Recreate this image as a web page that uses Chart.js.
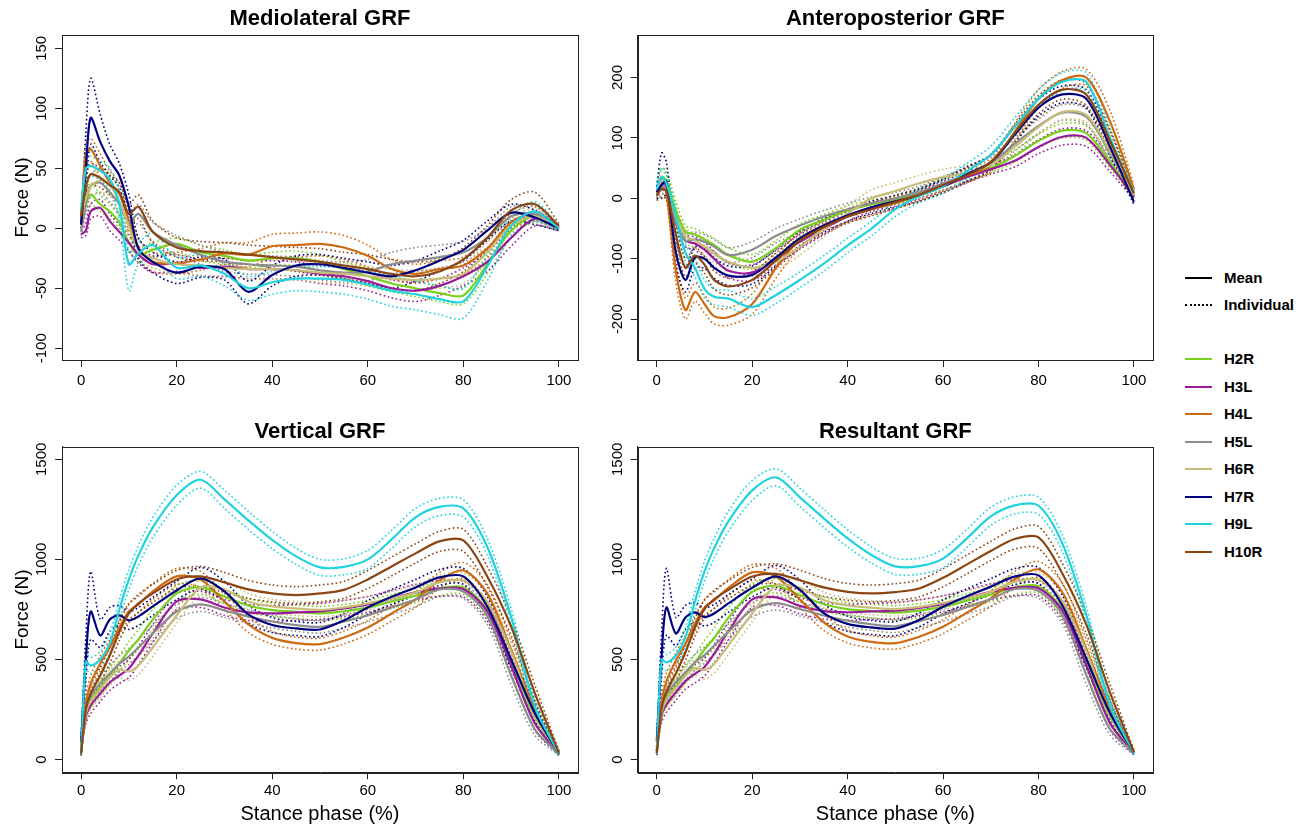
<!DOCTYPE html>
<html>
<head>
<meta charset="utf-8">
<script src="https://cdn.jsdelivr.net/npm/chart.js@4.4.1/dist/chart.umd.min.js"></script>
<style>
  body { margin: 0; background: #fff; width: 1304px; height: 824px; overflow: hidden; position: relative; font-family: 'Liberation Sans', Arial, sans-serif; }
  canvas { position: absolute; }
  .item { position: absolute; left: 1185px; width: 119px; height: 20px; }
  .item .ln { position: absolute; left: 0; top: 9px; width: 27px; border-top: 2px solid #000; }
  .item .dot { border-top: 2px dotted #000; }
  .item span { position: absolute; left: 39px; top: 0; font-weight: bold; font-size: 15px; line-height: 20px; color: #000; }
</style>
</head>
<body>
<canvas id="ml" width="590" height="400" style="left:0;top:0"></canvas>
<canvas id="ap" width="575" height="400" style="left:590px;top:0"></canvas>
<canvas id="vt" width="590" height="419" style="left:0;top:405px"></canvas>
<canvas id="rs" width="575" height="419" style="left:590px;top:405px"></canvas>
<div id="leyenda"></div>

<script>
// stance phase (%) sampled for every curve
var stance = [0, 1, 2, 4, 6, 8, 10, 12, 15, 20, 25, 30, 35, 40, 45, 50, 55, 60, 65, 70, 75, 80, 85, 90, 95, 100];
var subjects = ['H2R', 'H3L', 'H4L', 'H5L', 'H6R', 'H7R', 'H9L', 'H10R'];
var subjectColors = ['#76d21a', '#9b1a9b', '#cd6a12', '#8c8c8c', '#c8bd78', '#00007f', '#1ed3de', '#8b4513'];

var xTicks = [0, 20, 40, 60, 80, 100];
var mlTicks = [-100, -50, 0, 50, 100, 150];
var apTicks = [-200, -100, 0, 100, 200];
var vTicks = [0, 500, 1000, 1500];

// Mediolateral GRF (N)
var mlMean = [
  [8,20,28,20,14,5,-12,-22,-18,-13,-20,-23,-27,-25,-25,-28,-34,-40,-46,-50,-54,-56,-30,-2,10,0],
  [-5,-2,14,17,6,-3,-12,-22,-30,-29,-33,-32,-34,-34,-35,-38,-40,-44,-50,-52,-48,-40,-28,-8,8,0],
  [5,62,66,52,38,29,6,-16,-28,-29,-26,-21,-22,-15,-14,-13,-16,-23,-34,-38,-34,-31,-17,5,12,0],
  [-3,20,35,38,30,20,5,12,-3,-14,-22,-28,-30,-31,-32,-35,-37,-36,-30,-27,-24,-20,-8,10,12,0],
  [8,25,35,40,36,22,2,-18,-25,-30,-31,-33,-34,-34,-35,-37,-38,-40,-42,-43,-42,-38,-20,2,10,0],
  [3,50,92,72,56,44,18,-17,-28,-37,-32,-34,-53,-39,-31,-30,-33,-37,-40,-35,-27,-18,-2,13,9,0],
  [15,50,52,48,41,20,-30,-21,-14,-33,-31,-38,-50,-45,-42,-42,-43,-47,-52,-55,-59,-61,-32,2,14,0],
  [10,35,45,42,36,30,12,18,-3,-16,-19,-20,-22,-24,-26,-28,-31,-34,-38,-40,-36,-26,-8,15,20,2]
];
var mlTrialA = [
  [12,28,38,28,20,10,-6,-16,-12,-8,-14,-18,-22,-20,-19,-22,-28,-33,-40,-44,-48,-50,-24,4,14,2],
  [-2,4,20,24,12,3,-6,-15,-23,-22,-26,-25,-27,-27,-28,-31,-33,-37,-43,-45,-42,-33,-20,0,14,2],
  [8,70,75,62,48,38,14,-8,-20,-20,-17,-12,-12,-5,-4,-3,-6,-14,-26,-30,-27,-24,-10,12,18,2],
  [0,28,45,48,40,28,12,20,5,-6,-14,-20,-22,-23,-24,-27,-28,-26,-20,-16,-14,-11,0,18,18,2],
  [12,32,44,50,46,32,10,-10,-17,-22,-23,-25,-26,-26,-27,-29,-30,-32,-34,-35,-34,-30,-12,8,16,2],
  [6,80,125,95,70,54,28,-8,-20,-28,-24,-26,-44,-31,-23,-22,-25,-28,-31,-27,-19,-10,6,20,15,2],
  [20,58,60,56,50,32,-20,-12,-4,-24,-22,-28,-40,-36,-32,-32,-33,-36,-40,-44,-48,-50,-22,10,22,2],
  [14,42,54,50,44,38,20,28,6,-8,-11,-12,-14,-15,-16,-17,-20,-22,-26,-28,-26,-16,2,24,30,4]
];
var mlTrialB = [
  [4,14,20,14,8,0,-18,-28,-25,-20,-27,-30,-33,-31,-31,-35,-41,-48,-53,-57,-61,-63,-38,-8,6,-2],
  [-8,-6,8,10,-2,-10,-19,-29,-37,-36,-40,-40,-42,-42,-43,-46,-48,-52,-58,-61,-56,-48,-36,-15,2,-2],
  [2,52,56,42,28,20,-2,-24,-36,-38,-35,-30,-32,-25,-24,-23,-26,-32,-42,-46,-42,-39,-25,-2,6,-2],
  [-6,12,26,30,22,12,-2,4,-11,-22,-30,-36,-38,-39,-40,-43,-45,-44,-38,-36,-33,-28,-16,2,6,-2],
  [4,18,26,30,27,12,-6,-26,-33,-38,-39,-41,-42,-42,-43,-45,-46,-48,-50,-52,-50,-46,-28,-4,4,-2],
  [0,30,70,55,44,34,8,-26,-37,-46,-41,-43,-63,-48,-40,-39,-42,-46,-50,-44,-36,-27,-10,6,3,-2],
  [10,42,44,40,32,8,-52,-30,-24,-42,-40,-48,-60,-55,-52,-53,-55,-59,-65,-68,-72,-75,-44,-6,6,-2],
  [6,28,36,34,28,22,4,8,-12,-24,-27,-28,-30,-33,-36,-39,-42,-46,-50,-52,-46,-36,-18,6,10,0]
];

// Anteroposterior GRF (N)
var apMean = [
  [10,35,30,-20,-55,-60,-68,-77,-94,-105,-82,-52,-36,-20,-10,-3,8,22,38,50,70,95,112,108,60,5],
  [10,25,20,-40,-70,-75,-85,-100,-120,-123,-98,-72,-50,-30,-15,-6,5,20,35,48,62,85,102,100,55,3],
  [5,20,10,-120,-185,-155,-175,-195,-197,-175,-115,-68,-44,-30,-18,-8,5,22,38,55,110,165,196,200,127,15],
  [5,20,15,-40,-70,-68,-72,-80,-94,-85,-62,-45,-30,-18,-8,0,10,25,40,58,90,120,142,135,75,5],
  [8,30,25,-30,-62,-70,-80,-92,-105,-115,-105,-80,-50,-25,0,12,25,35,42,55,85,118,143,138,78,5],
  [10,22,28,-90,-135,-98,-100,-115,-128,-127,-98,-66,-45,-28,-15,-5,5,20,40,60,105,150,172,165,85,-6],
  [15,35,25,-30,-90,-115,-150,-163,-166,-180,-160,-135,-108,-78,-50,-18,4,20,45,72,118,165,193,193,100,10],
  [5,15,12,-60,-115,-95,-110,-135,-146,-135,-103,-70,-48,-30,-18,-6,6,22,38,60,108,155,180,172,95,8]
];
var apTrialA = [
  [20,50,45,-5,-45,-50,-58,-66,-82,-93,-70,-42,-27,-12,-3,4,15,30,46,58,80,106,124,120,70,10],
  [16,36,30,-28,-60,-64,-73,-88,-108,-110,-86,-60,-40,-22,-8,0,12,28,44,56,72,97,115,112,66,8],
  [12,32,22,-100,-165,-140,-160,-180,-182,-158,-98,-55,-34,-20,-9,1,14,32,48,66,124,180,210,214,145,22],
  [12,32,26,-28,-58,-56,-60,-68,-82,-72,-50,-34,-20,-8,2,10,20,36,52,70,102,132,155,148,88,10],
  [16,45,38,-16,-50,-58,-66,-78,-92,-102,-92,-66,-36,-12,14,26,38,48,55,68,98,130,156,150,92,10],
  [20,75,60,-65,-115,-80,-84,-98,-112,-112,-84,-54,-34,-18,-5,5,15,31,52,72,118,164,186,180,100,0],
  [25,50,40,-15,-75,-100,-135,-150,-152,-166,-146,-122,-95,-66,-38,-6,15,32,58,86,133,180,208,208,116,16],
  [14,30,26,-42,-100,-82,-96,-120,-132,-122,-90,-58,-37,-19,-7,5,17,34,50,73,122,170,196,190,112,14]
];
var apTrialB = [
  [2,22,18,-35,-66,-70,-78,-88,-106,-117,-95,-63,-45,-28,-17,-10,1,14,30,42,60,84,100,96,50,0],
  [4,14,10,-52,-80,-86,-97,-113,-132,-136,-110,-84,-60,-38,-22,-13,-2,12,26,40,52,74,88,86,44,-2],
  [-2,8,0,-140,-200,-170,-190,-208,-210,-192,-132,-82,-54,-40,-27,-17,-4,12,28,44,96,150,182,186,110,8],
  [-2,8,4,-52,-82,-80,-84,-92,-106,-98,-74,-56,-40,-28,-18,-10,0,14,28,46,78,108,129,122,62,0],
  [0,16,12,-44,-74,-82,-94,-106,-118,-128,-118,-94,-64,-38,-14,-2,12,22,29,42,72,106,130,126,64,0],
  [0,0,5,-112,-155,-116,-116,-132,-144,-142,-112,-78,-56,-38,-25,-15,-5,9,28,48,92,136,158,150,70,-10],
  [5,20,10,-45,-105,-130,-165,-176,-180,-194,-174,-148,-121,-90,-62,-30,-7,8,32,58,103,150,178,178,84,4],
  [-4,2,-2,-78,-130,-108,-124,-150,-160,-148,-116,-82,-59,-41,-29,-17,-5,10,26,47,94,140,164,154,78,2]
];

// Vertical GRF (N)
var vMean = [
  [40,240,300,360,420,480,545,600,700,830,860,815,770,747,738,730,740,760,790,820,855,860,747,497,213,30],
  [60,220,270,330,385,420,455,520,630,790,800,760,735,730,735,740,755,775,805,835,855,852,740,470,180,30],
  [40,280,380,480,560,660,740,775,840,915,900,790,675,608,582,577,610,660,730,800,895,945,830,550,250,38],
  [40,260,320,380,430,480,515,560,630,740,775,745,715,690,672,663,690,720,760,800,850,840,720,420,150,30],
  [50,230,290,350,410,450,440,470,560,720,860,850,790,765,755,748,760,780,805,835,885,895,790,540,220,30],
  [90,500,740,620,700,720,695,715,765,845,905,840,725,672,655,650,695,760,813,860,910,915,765,500,230,30],
  [30,490,470,500,580,750,900,1020,1160,1320,1398,1300,1195,1097,1015,960,963,1000,1100,1210,1262,1255,1063,713,263,30],
  [30,250,330,420,520,640,730,780,830,900,915,885,850,830,822,830,848,900,965,1030,1090,1095,915,665,330,35]
];
var vTrialA = [
  [50,280,340,400,460,520,590,650,750,870,895,850,805,780,772,765,775,795,825,855,890,895,790,540,250,40],
  [70,260,310,370,425,465,500,565,675,830,840,800,775,770,775,780,795,815,845,875,895,890,785,515,215,40],
  [50,320,420,520,600,700,780,815,880,955,940,830,715,640,612,607,642,695,768,840,935,985,875,600,290,50],
  [50,300,360,420,470,520,555,600,670,775,810,780,748,722,703,694,722,752,794,836,886,876,765,465,180,40],
  [60,270,330,390,450,490,485,515,605,760,900,890,830,800,790,783,795,815,840,872,922,932,835,585,255,40],
  [110,620,940,700,760,770,740,760,810,890,960,890,770,710,690,685,730,795,850,900,950,955,815,545,270,40],
  [40,530,510,540,630,800,950,1070,1210,1370,1440,1345,1240,1140,1055,1000,1003,1045,1145,1255,1305,1298,1105,755,300,40],
  [40,290,370,460,560,685,775,825,875,945,965,935,895,872,864,872,890,945,1012,1078,1140,1150,965,710,370,45]
];
var vTrialB = [
  [30,200,260,320,380,440,500,550,650,790,825,780,735,715,705,697,705,725,755,785,820,825,705,455,180,22],
  [50,180,230,290,345,380,410,475,585,750,760,720,695,690,695,700,715,735,765,795,815,812,695,425,145,22],
  [30,240,340,440,520,620,700,735,800,875,860,750,635,576,552,547,578,625,692,760,855,905,785,500,210,28],
  [30,220,280,340,390,440,475,520,590,705,740,710,682,658,641,632,658,688,726,764,814,804,675,375,120,22],
  [40,190,250,310,370,410,395,425,515,680,820,810,750,730,720,713,725,745,770,798,848,858,745,495,185,22],
  [70,400,600,560,640,670,650,670,720,800,850,790,680,635,620,615,660,725,776,820,870,875,715,455,190,22],
  [20,450,430,460,530,700,850,970,1110,1270,1356,1255,1150,1054,975,920,923,955,1055,1165,1219,1212,1021,671,226,22],
  [20,210,290,380,480,595,685,735,785,855,865,835,805,788,780,788,806,855,918,982,1040,1040,865,620,290,25]
];

// Resultant GRF (N)
var rMean = [
  [45,245,305,365,425,485,550,606,708,838,868,822,776,752,742,734,744,764,794,824,860,866,752,500,215,32],
  [62,225,275,336,392,428,463,528,640,800,810,768,742,736,740,744,758,778,808,838,858,856,744,473,182,32],
  [42,285,390,495,578,680,760,795,858,935,915,800,685,615,588,582,614,664,734,805,900,950,836,555,253,40],
  [42,265,326,386,436,486,522,568,638,748,782,752,720,694,676,666,692,722,762,802,852,842,724,423,152,32],
  [52,235,296,358,418,458,448,478,570,730,868,858,797,770,759,752,763,783,808,838,888,898,794,543,222,32],
  [92,510,760,630,710,735,712,730,780,858,915,848,732,678,660,654,698,763,816,864,914,920,770,505,232,32],
  [32,500,485,520,610,790,940,1055,1190,1345,1410,1310,1205,1105,1022,965,966,1004,1105,1215,1270,1268,1080,725,268,32],
  [32,255,338,430,535,660,752,800,848,915,928,896,860,838,830,837,855,908,975,1042,1102,1110,930,675,335,37]
];
var rTrialA = [
  [55,285,345,405,465,525,595,656,758,878,903,857,811,785,776,769,779,799,829,859,895,901,795,543,252,42],
  [72,265,315,376,432,473,508,573,685,840,850,808,782,776,780,784,798,818,848,878,898,894,789,518,217,42],
  [52,325,430,535,618,720,800,835,898,975,955,840,725,647,618,612,646,699,772,845,940,990,881,605,293,52],
  [52,305,366,426,476,526,562,608,678,783,817,787,753,726,707,697,724,754,796,838,888,878,769,468,182,42],
  [62,275,336,398,458,498,493,523,615,770,908,898,837,805,794,787,798,818,843,875,925,935,839,588,257,42],
  [112,630,955,710,770,785,757,775,825,903,970,898,777,716,695,689,733,798,853,904,954,960,820,550,272,42],
  [42,540,525,560,660,840,990,1105,1240,1395,1452,1355,1250,1148,1062,1005,1006,1049,1150,1260,1313,1311,1122,767,305,42],
  [42,295,378,470,575,705,797,845,893,960,978,946,905,880,872,879,897,953,1022,1090,1152,1165,980,720,375,47]
];
var rTrialB = [
  [35,205,265,325,385,445,505,556,658,798,833,787,741,719,708,699,709,729,759,789,825,831,709,457,178,24],
  [52,185,235,296,352,383,418,483,595,760,770,728,702,696,700,704,718,738,768,798,818,818,699,428,147,24],
  [32,245,350,455,538,640,720,755,818,895,875,760,645,583,558,552,582,629,696,765,860,910,791,505,213,30],
  [32,225,286,346,396,446,482,528,598,713,747,717,687,662,645,635,660,690,728,766,816,806,679,378,122,24],
  [42,195,256,318,378,418,403,433,525,690,828,818,757,735,724,717,728,748,773,801,851,861,749,498,187,24],
  [72,410,620,570,650,685,667,685,735,813,860,798,687,641,625,619,663,728,779,824,874,880,720,460,192,24],
  [22,460,445,480,560,740,890,1005,1140,1295,1368,1265,1160,1062,982,925,926,959,1060,1170,1227,1225,1038,683,231,24],
  [22,215,298,390,495,615,707,755,803,870,878,846,815,796,788,795,813,863,928,994,1052,1055,880,630,295,27]
];

var fuente = "'Liberation Sans', Arial, Helvetica, sans-serif";
var negro = '#222';

function puntos(valores) {
  return stance.map(function(x, k) {
    return { x: x, y: valores[k] };
  });
}

function armarDatasets(media, ensayoA, ensayoB) {
  var sets = [];
  subjects.forEach(function(s, i) {
    // individuales (punteados) siempre detras de las medias
    [ensayoA, ensayoB].forEach(function(t) {
      sets.push({
        label: s + ' individual',
        data: puntos(t[i]),
        borderColor: subjectColors[i],
        borderWidth: 1.6,
        borderDash: [1.6, 2.6],
        pointRadius: 0,
        tension: 0.3,
        order: 20 - i
      });
    });
    sets.push({
      label: s,
      data: puntos(media[i]),
      borderColor: subjectColors[i],
      borderWidth: 2.2,
      pointRadius: 0,
      tension: 0.3,
      order: 9 - i
    });
  });
  return sets;
}

// marco completo alrededor del area del grafico (estilo R)
var marco = {
  id: 'marco',
  afterDraw: function(chart) {
    var a = chart.chartArea, ctx = chart.ctx;
    ctx.save();
    ctx.strokeStyle = negro;
    ctx.lineWidth = 1;
    ctx.strokeRect(Math.round(a.left) + 0.5, Math.round(a.top) + 0.5, Math.round(a.right - a.left), Math.round(a.bottom - a.top));
    ctx.restore();
  }
};

function grafico(id, p) {
  var ctx = document.getElementById(id).getContext('2d');
  return new Chart(ctx, {
    type: 'line',
    data: { datasets: armarDatasets(p.media, p.ensayoA, p.ensayoB) },
    options: {
      responsive: false,
      animation: false,
      devicePixelRatio: 1,
      events: [],
      parsing: false,
      layout: { padding: { left: 0, right: 12, top: 0, bottom: 0 } },
      plugins: {
        legend: { display: false },
        tooltip: { enabled: false },
        title: {
          display: true,
          text: p.titulo,
          color: '#000',
          fullSize: false,
          font: { family: fuente, size: 22, weight: 'bold', lineHeight: 1.2 },
          padding: p.tituloPad
        }
      },
      scales: {
        x: {
          type: 'linear',
          min: -4,
          max: 104,
          afterBuildTicks: function(s) { s.ticks = xTicks.map(function(v) { return { value: v }; }); },
          afterFit: function(s) { s.height = p.altoX; },
          grid: { drawOnChartArea: false, tickLength: 7, color: negro },
          border: { color: negro },
          ticks: { color: '#000', font: { family: fuente, size: 15 }, padding: p.padX, maxRotation: 0, autoSkip: false,
                   callback: function(v) { return String(v); } },
          title: {
            display: !!p.tituloX,
            text: p.tituloX || '',
            color: '#000',
            font: { family: fuente, size: 20, lineHeight: 1 },
            padding: { top: 0, bottom: 0 }
          }
        },
        y: {
          type: 'linear',
          min: p.yMin,
          max: p.yMax,
          afterBuildTicks: function(s) { s.ticks = p.yTicks.map(function(v) { return { value: v }; }); },
          afterFit: function(s) { s.width = p.anchoY; },
          grid: { drawOnChartArea: false, tickLength: 7, color: negro },
          border: { color: negro },
          ticks: { color: '#000', font: { family: fuente, size: 15 }, padding: p.padY, minRotation: 90, maxRotation: 90,
                   crossAlign: 'center', autoSkip: false,
                   callback: function(v) { return String(v); } },
          title: {
            display: !!p.tituloY,
            text: p.tituloY || '',
            color: '#000',
            font: { family: fuente, size: 19, lineHeight: 1 },
            padding: { top: 13, bottom: 0 }
          }
        }
      }
    },
    plugins: [marco]
  });
}

grafico('ml', {
  titulo: 'Mediolateral GRF', media: mlMean, ensayoA: mlTrialA, ensayoB: mlTrialB,
  yMin: -109.8, yMax: 161.1, yTicks: mlTicks, tituloY: 'Force (N)', anchoY: 62, padY: -2, padX: 5,
  tituloPad: { top: 6, bottom: 2.6 }, altoX: 40
});
grafico('ap', {
  titulo: 'Anteroposterior GRF', media: apMean, ensayoA: apTrialA, ensayoB: apTrialB,
  yMin: -267.7, yMax: 270.4, yTicks: apTicks, anchoY: 47.7, padY: -2, padX: 5,
  tituloPad: { top: 6, bottom: 2.6 }, altoX: 40
});
grafico('vt', {
  titulo: 'Vertical GRF', media: vMean, ensayoA: vTrialA, ensayoB: vTrialB,
  yMin: -63.5, yMax: 1563, yTicks: vTicks, tituloY: 'Force (N)', anchoY: 62, padY: -3.7, padX: 3,
  tituloPad: { top: 13.8, bottom: 1.5 }, altoX: 51.7, tituloX: 'Stance phase (%)'
});
grafico('rs', {
  titulo: 'Resultant GRF', media: rMean, ensayoA: rTrialA, ensayoB: rTrialB,
  yMin: -63.5, yMax: 1563, yTicks: vTicks, anchoY: 47.7, padY: -3.7, padX: 3,
  tituloPad: { top: 13.8, bottom: 1.5 }, altoX: 51.7, tituloX: 'Stance phase (%)'
});

// leyenda: estilo de linea y sujetos
var leyenda = document.getElementById('leyenda');
function filaLeyenda(texto, centro, color, punteada) {
  var fila = document.createElement('div');
  fila.className = 'item';
  fila.style.top = (centro - 10) + 'px';
  var linea = document.createElement('div');
  linea.className = punteada ? 'ln dot' : 'ln';
  linea.style.borderTopColor = color;
  var etiqueta = document.createElement('span');
  etiqueta.textContent = texto;
  fila.appendChild(linea);
  fila.appendChild(etiqueta);
  leyenda.appendChild(fila);
}
filaLeyenda('Mean', 278, '#000', false);
filaLeyenda('Individual', 305, '#000', true);
subjects.forEach(function(s, i) {
  filaLeyenda(s, 359 + i * 27.5, subjectColors[i], false);
});
</script>
</body>
</html>
